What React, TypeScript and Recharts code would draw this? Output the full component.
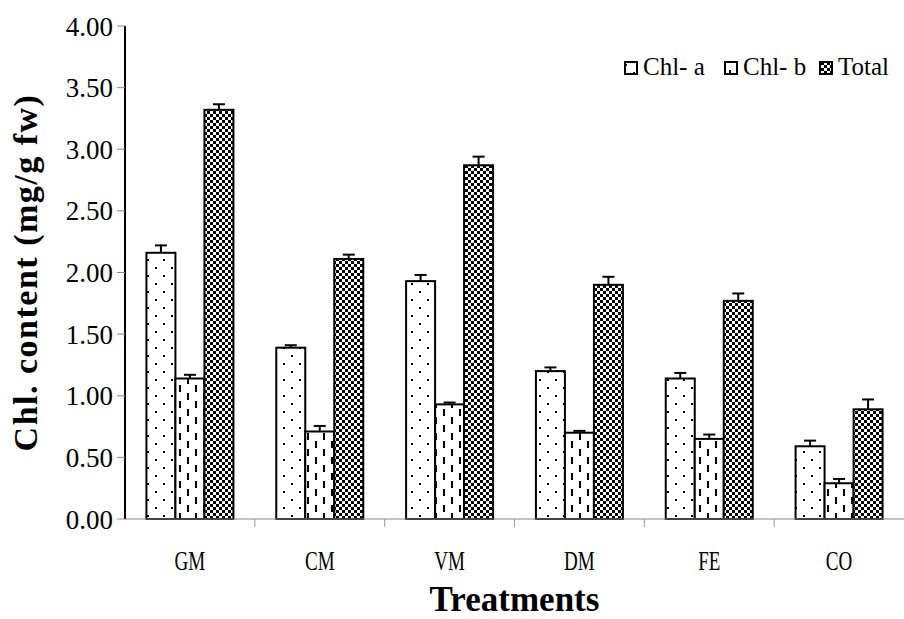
import { BarChart, Bar, XAxis, YAxis, Label } from 'recharts'

const treatments = ['GM', 'CM', 'VM', 'DM', 'FE', 'CO']
const chlA = [2.16, 1.39, 1.93, 1.2, 1.14, 0.59]
const chlAErr = [0.06, 0.02, 0.05, 0.03, 0.045, 0.046]
const chlB = [1.14, 0.71, 0.93, 0.7, 0.65, 0.29]
const chlBErr = [0.03, 0.045, 0.015, 0.015, 0.035, 0.035]
const total = [3.32, 2.11, 2.87, 1.9, 1.77, 0.89]
const totalErr = [0.045, 0.035, 0.07, 0.065, 0.06, 0.08]
const yTicks = [0, 0.5, 1, 1.5, 2, 2.5, 3, 3.5, 4]

const data = treatments.map((t, i) => ({
  name: t,
  a: chlA[i],
  aErr: chlAErr[i],
  b: chlB[i],
  bErr: chlBErr[i],
  total: total[i],
  totalErr: totalErr[i],
}))

const FONT = "'Liberation Serif', 'Times New Roman', serif"
const CAT_W = (904 - 125) / treatments.length

const makeShape = (fill: string, key: string, errKey: string) => (p: any) => {
  const { x, y, width, height, payload } = p
  const v = payload[key]
  const e = height * (payload[errKey] / v)
  const cx = x + width / 2
  return (
    <g>
      <rect x={x} y={y} width={width} height={height} fill={fill} stroke="#000" strokeWidth={2} />
      <line x1={cx} y1={y} x2={cx} y2={y - e} stroke="#000" strokeWidth={2} />
      <line x1={cx - 6} y1={y - e} x2={cx + 6} y2={y - e} stroke="#000" strokeWidth={2} />
    </g>
  )
}

const XTick = (p: any) => {
  const { x, y, payload, index } = p
  return (
    <g>
      {index < treatments.length - 1 && (
        <line x1={x + CAT_W / 2} y1={y - 2} x2={x + CAT_W / 2} y2={y + 6} stroke="#999" strokeWidth={1} />
      )}
      <text
        transform={`translate(${x},${y + 49}) scale(0.68,1)`}
        textAnchor="middle"
        fontFamily={FONT}
        fontSize={28}
        fill="#000"
      >
        {payload.value}
      </text>
    </g>
  )
}

const legendItems = [
  { label: 'Chl- a', fill: 'url(#dots)' },
  { label: 'Chl- b', fill: 'url(#dashes)' },
  { label: 'Total', fill: 'url(#checks)' },
]

export default function App() {
  return (
    <div style={{ position: 'absolute', left: 0, top: 0, width: 904, height: 619, background: '#fff' }}>
      <BarChart
        width={904}
        height={619}
        data={data}
        margin={{ top: 26, right: 0, left: 0, bottom: 0 }}
        barCategoryGap="16.5%"
        barGap={0}
      >
        <defs>
          <pattern id="dots" width={16} height={16} patternUnits="userSpaceOnUse">
            <rect width={16} height={16} fill="#fff" />
            <rect x={3} y={3} width={2} height={2} fill="#000" />
            <rect x={11} y={11} width={2} height={2} fill="#000" />
          </pattern>
          <pattern id="dashes" width={16} height={16} patternUnits="userSpaceOnUse">
            <rect width={16} height={16} fill="#fff" />
            <rect x={3} y={1} width={2} height={7} fill="#000" />
            <rect x={11} y={9} width={2} height={7} fill="#000" />
          </pattern>
          <pattern id="checks" width={6} height={6} patternUnits="userSpaceOnUse">
            <rect width={6} height={6} fill="#fff" />
            <rect x={0} y={0} width={3} height={3} fill="#000" />
            <rect x={3} y={3} width={3} height={3} fill="#000" />
          </pattern>
        </defs>
        <XAxis
          dataKey="name"
          height={100}
          axisLine={{ stroke: '#888', strokeWidth: 1 }}
          tickLine={false}
          tickSize={0}
          tick={<XTick />}
          interval={0}
        >
          <Label
            value="Treatments"
            position="insideBottom"
            offset={8}
            style={{ fontFamily: FONT, fontSize: 35, fontWeight: 700, fill: '#000' }}
          />
        </XAxis>
        <YAxis
          width={125}
          domain={[0, 4]}
          ticks={yTicks}
          interval={0}
          tickFormatter={(v: number) => v.toFixed(2)}
          axisLine={{ stroke: '#000', strokeWidth: 2 }}
          tickLine={{ stroke: '#888' }}
          tickSize={8}
          tickMargin={4}
          tick={{ fontFamily: FONT, fontSize: 27, fill: '#000' }}
        >
          <Label
            value="Chl. content (mg/g fw)"
            angle={-90}
            position="insideLeft"
            offset={25}
            style={{
              fontFamily: FONT,
              fontSize: 34,
              fontWeight: 700,
              letterSpacing: 1.5,
              fill: '#000',
              textAnchor: 'middle',
            }}
          />
        </YAxis>
        <Bar dataKey="a" name="Chl- a" isAnimationActive={false} shape={makeShape('url(#dots)', 'a', 'aErr')} />
        <Bar dataKey="b" name="Chl- b" isAnimationActive={false} shape={makeShape('url(#dashes)', 'b', 'bErr')} />
        <Bar dataKey="total" name="Total" isAnimationActive={false} shape={makeShape('url(#checks)', 'total', 'totalErr')} />
      </BarChart>
      <svg width={290} height={30} style={{ position: 'absolute', left: 614, top: 53 }}>
        {legendItems.map((it, i) => {
          const x0 = [11, 111, 206][i]
          return (
            <g key={it.label}>
              <rect x={x0} y={9} width={12} height={12} fill={it.fill} stroke="#000" strokeWidth={2} />
              <text x={x0 + 18} y={22} fontFamily={FONT} fontSize={25} fill="#000">
                {it.label}
              </text>
            </g>
          )
        })}
      </svg>
    </div>
  )
}
